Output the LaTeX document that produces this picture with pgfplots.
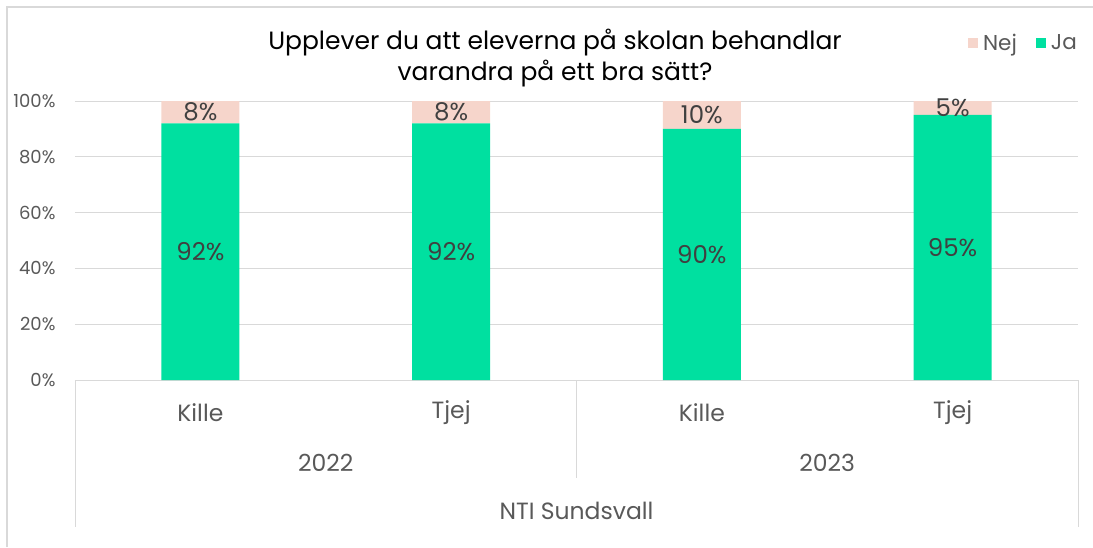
\documentclass[border=0pt]{standalone}
\usepackage{pgfplots}
\pgfplotsset{compat=1.18}
\usepackage{fontspec}
\setmainfont{Poppins}
\definecolor{ja}{RGB}{0,224,160}
\definecolor{nej}{RGB}{246,213,203}
\definecolor{txt}{RGB}{89,89,89}
\definecolor{lbl}{RGB}{64,64,64}
\definecolor{grd}{RGB}{217,217,217}
\begin{document}
\begin{tikzpicture}[x=1pt,y=1pt]
\useasboundingbox (-75,-167) rectangle (1018,380);
\draw[grd, line width=1.2pt] (-68,-167) -- (-68,373) -- (1018,373);
\begin{axis}[
  at={(0,0)}, anchor=south west,
  scale only axis, width=1003pt, height=279pt,
  ybar stacked, bar width=78pt,
  xmin=-0.5, xmax=3.5, ymin=0, ymax=100,
  xtick={0,1,2,3}, xticklabels={Kille,Tjej,Kille,Tjej},
  ytick={0,20,40,60,80,100},
  yticklabel={\pgfmathprintnumber{\tick}\%},
  /pgf/number format/assume math mode=true,
  ymajorgrids, grid style={grd, line width=0.8pt},
  axis line style={draw=none},
  axis x line*=bottom,
  x axis line style={draw=grd, line width=0.8pt},
  major tick length=0pt,
  ticklabel style={text=txt},
  yticklabel style={font=\fontsize{18}{20}\selectfont, anchor=east, xshift=-16pt},
  xticklabel style={font=\fontsize{23.5}{26}\selectfont, anchor=center, yshift=-33pt},
  clip=false,
  nodes near coords,
  point meta=explicit symbolic,
  every node near coord/.append style={font=\fontsize{24.5}{26}\selectfont, text=lbl, anchor=center},
  legend style={at={(1.007,1.208)}, anchor=east, draw=none, fill=none,
     font=\fontsize{21.5}{23}\selectfont, text=txt, legend columns=2,
     nodes={inner xsep=5pt},
     /tikz/every even column/.append style={column sep=14pt}},
  legend image code/.code={\fill[#1] (0pt,-5pt) rectangle (10pt,5pt);},
  reverse legend,
]
\addplot[fill=ja, draw=none] coordinates {(0,92) [92\%] (1,92) [92\%] (2,90) [90\%] (3,95) [95\%]};
\addlegendentry{Ja}
\addplot[fill=nej, draw=none] coordinates {(0,8) [8\%] (1,8) [8\%] (2,10) [10\%] (3,5) [5\%]};
\addlegendentry{Nej}
\node[text=txt, font=\fontsize{23.5}{26}\selectfont] at ([yshift=-83pt]axis cs:0.5,0) {2022};
\node[text=txt, font=\fontsize{23.5}{26}\selectfont] at ([yshift=-83pt]axis cs:2.5,0) {2023};
\node[text=txt, font=\fontsize{23.5}{26}\selectfont] at ([yshift=-131pt]axis cs:1.5,0) {NTI Sundsvall};
\node[text=black, font=\fontsize{25}{31}\selectfont, align=center, anchor=center] at ([yshift=43pt]rel axis cs:0.4786,1) {Upplever du att eleverna på skolan behandlar\\varandra på ett bra sätt?};
\end{axis}
\draw[grd, line width=0.8pt] (0,0) -- (0,-147);
\draw[grd, line width=0.8pt] (1003,0) -- (1003,-147);
\draw[grd, line width=0.8pt] (501.5,0) -- (501.5,-98);
\end{tikzpicture}
\end{document}
